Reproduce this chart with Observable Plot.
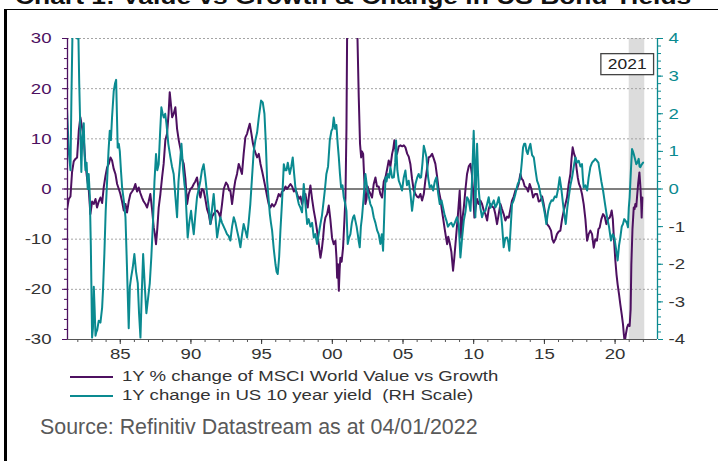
<!DOCTYPE html>
<html><head><meta charset="utf-8">
<script src="https://cdn.jsdelivr.net/npm/d3@7"></script>
<script src="https://cdn.jsdelivr.net/npm/@observablehq/plot@0.6"></script>
<style>
html,body{margin:0;padding:0;background:#fff;}
#wrap{position:relative;width:718px;height:461px;overflow:hidden;font-family:"Liberation Sans",Arial,sans-serif;}
#frame{position:absolute;left:4px;top:9px;width:714px;height:452px;box-sizing:border-box;border-top:1.5px solid #000;border-left:3px solid #000;}
#title{position:absolute;left:15px;top:-14px;font-size:22px;line-height:22px;font-weight:bold;color:#111;white-space:nowrap;transform:scaleX(1.2);transform-origin:0 0;}
#chart{position:absolute;left:0;top:0;}
#legend{position:absolute;left:70px;top:368px;}
.row{position:relative;height:19px;width:600px;}
.sw{position:absolute;left:0;top:8px;width:43px;height:2px;}
.lt{position:absolute;left:52px;top:0;font-size:15.5px;line-height:15.5px;color:#333;white-space:pre;transform:scaleX(1.2);transform-origin:0 0;}
#source{position:absolute;left:40px;top:417px;font-size:21.4px;line-height:21.4px;color:#595959;white-space:nowrap;}
</style></head><body>
<div id="wrap">
  <div id="frame"></div>
  <div id="title"></div>
  <div id="chart"></div>
  <div id="legend"></div>
  <div id="source"></div>
</div>
<script>
// ---------- text ----------
const titleText = "Chart 1: Value vs Growth & Change in US Bond Yields";
const sourceText = "Source: Refinitiv Datastream as at 04/01/2022";
const seriesNames = ["1Y % change of MSCI World Value vs Growth", "1Y change in US 10 year yield  (RH Scale)"];
const highlightLabel = "2021";

// ---------- scales / ticks ----------
const xDomain = [1981.27, 2023.0];
const leftDomain = [-30, 30];
const rightDomain = [-4, 4];
const leftMajor = [-30, -20, -10, 0, 10, 20, 30];
const leftMinor = d3.range(-30, 31, 2);
const rightMajor = [-4, -3, -2, -1, 0, 1, 2, 3, 4];
const rightMinor = d3.range(-20, 21, 1).map(d => d / 5);
const xLabelYears = [1985, 1990, 1995, 2000, 2005, 2010, 2015, 2020];
const xMinorYears = d3.range(1982, 2023);
const highlight = [{start: 2021.0, end: 2022.1, label: highlightLabel}];

// ---------- series: [year, value] ----------
const valueVsGrowth = [
[1981.24,-4],[1981.36,-2],[1981.48,-1.5],[1981.59,3.3],[1981.71,5.5],[1981.83,6],[1981.95,6.3],[1982.07,11.7],[1982.18,14.3],[1982.30,12.3],
[1982.42,10],[1982.54,5],[1982.66,2],[1982.77,0],[1982.89,-5],[1983.01,-2.5],[1983.13,-3],[1983.25,-2],[1983.36,-3.7],[1983.48,-2.5],
[1983.60,-1.7],[1983.72,-2.8],[1983.83,0.3],[1983.95,2.5],[1984.07,4.3],[1984.19,5],[1984.31,6.3],[1984.42,5.7],[1984.54,4],[1984.66,3],
[1984.78,1],[1984.90,0],[1985.01,-1],[1985.13,-2.5],[1985.25,-4.3],[1985.37,-3],[1985.48,-4.7],[1985.60,-2.5],[1985.72,-1],[1985.84,-0.5],
[1985.95,0],[1986.07,1],[1986.19,-0.5],[1986.31,0.3],[1986.42,-0.8],[1986.54,-1.7],[1986.66,-2.5],[1986.78,-3],[1986.90,-3.7],[1987.01,-2.5],
[1987.13,-1],[1987.25,-4],[1987.37,-7.7],[1987.45,-9],[1987.53,-11],[1987.62,-8],[1987.72,-3.7],[1987.84,-1],[1987.96,2.3],[1988.07,5],
[1988.19,9.7],[1988.31,11],[1988.42,15],[1988.50,19.3],[1988.58,17],[1988.67,14.3],[1988.78,15],[1988.90,16.3],[1989.02,12],[1989.14,9.7],
[1989.26,8],[1989.37,6],[1989.49,5],[1989.61,2],[1989.73,-3],[1989.84,-1],[1989.96,0],[1990.08,0.3],[1990.20,1],[1990.31,1.5],
[1990.43,2.3],[1990.55,0],[1990.67,-1.7],[1990.78,0],[1990.90,-0.3],[1991.02,-2],[1991.14,-4],[1991.26,-5],[1991.38,-7],[1991.50,-5.5],
[1991.61,-5],[1991.73,-4.5],[1991.85,-4.3],[1991.97,-4.8],[1992.08,-5.7],[1992.20,-3],[1992.32,0],[1992.48,1.3],[1992.60,0.8],[1992.70,-0.3],
[1992.79,-0.3],[1992.91,-3],[1993.02,-0.5],[1993.14,1.7],[1993.26,3],[1993.38,5],[1993.50,4],[1993.61,3],[1993.73,7],[1993.85,10.3],
[1993.97,11],[1994.06,12],[1994.16,13],[1994.28,11],[1994.39,9],[1994.50,7.7],[1994.68,6.3],[1994.80,7],[1994.92,5],[1995.04,3.5],
[1995.15,2],[1995.27,0.3],[1995.39,-1.5],[1995.50,-3],[1995.62,-3.7],[1995.74,-3],[1995.86,-3.5],[1995.98,-3],[1996.10,-2],[1996.21,-1],
[1996.33,-1.5],[1996.45,-0.5],[1996.57,-0.3],[1996.69,0.5],[1996.80,0],[1996.92,0.5],[1997.04,1],[1997.16,0.5],[1997.28,-0.5],[1997.39,0],
[1997.51,-1],[1997.63,-2],[1997.75,-1.5],[1997.86,-3],[1997.98,-1.5],[1998.10,-1],[1998.18,-2.5],[1998.26,-3.7],[1998.36,-1],[1998.45,0.7],
[1998.57,-2],[1998.69,-4.3],[1998.80,-6],[1998.92,-8.3],[1999.04,-11],[1999.16,-13.7],[1999.26,-12],[1999.35,-9.7],[1999.43,-7],[1999.51,-5.7],
[1999.63,-5],[1999.75,-3.3],[1999.86,-6],[1999.98,-9.7],[2000.10,-11],[2000.22,-10.3],[2000.30,-14],[2000.34,-17.7],[2000.40,-15],[2000.46,-20.3],
[2000.52,-16],[2000.57,-13.7],[2000.66,-14.5],[2000.76,-11.7],[2000.86,-6],[2000.93,-1.7],[2001.00,12],[2001.05,32],[2001.15,40],[2001.30,45],
[2001.50,48],[2001.65,42],[2001.75,34],[2001.87,18.3],[2001.96,9],[2002.04,6.3],[2002.10,7.5],[2002.18,7],[2002.26,2],[2002.34,-3],
[2002.42,-2],[2002.50,0.5],[2002.58,-0.3],[2002.70,-1],[2002.81,-1.7],[2002.93,1],[2003.05,2.3],[2003.16,0.5],[2003.28,0.5],[2003.40,-1],
[2003.52,-1.7],[2003.64,1.5],[2003.76,2.3],[2003.88,4],[2003.99,5.7],[2004.11,4.5],[2004.23,7],[2004.31,8],[2004.39,9.7],[2004.48,7.5],
[2004.58,7],[2004.70,8.5],[2004.82,8.7],[2004.95,8.5],[2005.06,8.7],[2005.17,8.3],[2005.30,7],[2005.40,6.5],[2005.52,5],[2005.64,2],
[2005.76,-0.3],[2005.88,-1],[2005.99,-1.5],[2006.11,-1.7],[2006.23,-1],[2006.35,-2.3],[2006.47,-1],[2006.58,1.7],[2006.70,4],[2006.82,6.3],
[2006.94,6.5],[2007.06,7],[2007.18,6],[2007.29,5],[2007.41,2.5],[2007.53,-0.3],[2007.65,-2],[2007.74,-4],[2007.83,-5.7],[2007.95,-8],
[2008.06,-10],[2008.12,-11],[2008.20,-9.5],[2008.30,-10.7],[2008.42,-12.5],[2008.54,-16.3],[2008.62,-14],[2008.71,-11],[2008.80,-8],[2008.87,-5.7],
[2009.01,-0.3],[2009.06,-4],[2009.11,-9.7],[2009.20,-6],[2009.30,-3.7],[2009.42,0],[2009.53,3],[2009.65,4.5],[2009.77,5],[2009.87,3],
[2009.95,0],[2010.05,-5.7],[2010.15,-3.5],[2010.24,-2],[2010.35,-3],[2010.47,-2.3],[2010.59,-3],[2010.71,-4.3],[2010.83,-5],[2010.95,-6.3],
[2011.06,-4],[2011.18,-3],[2011.30,-3.5],[2011.42,-3.7],[2011.53,-5],[2011.65,-7],[2011.77,-5],[2011.89,-3],[2012.00,-4],[2012.12,-5],
[2012.24,-6.3],[2012.36,-5.5],[2012.48,-5.7],[2012.60,-4],[2012.71,-2.3],[2012.83,-1.5],[2012.95,-0.3],[2013.06,0],[2013.18,1],[2013.30,3],
[2013.40,2],[2013.49,1.7],[2013.61,0.5],[2013.73,0.3],[2013.85,-0.5],[2013.96,1],[2014.08,0],[2014.20,-1.7],[2014.34,-1],[2014.48,-1],
[2014.60,-2.5],[2014.72,-2.3],[2014.84,-1.5],[2014.95,-3],[2015.07,-5],[2015.19,-7],[2015.33,-7.5],[2015.47,-8.3],[2015.56,-10],[2015.66,-10.7],
[2015.78,-10],[2015.89,-9],[2016.01,-8.5],[2016.13,-8.3],[2016.25,-6],[2016.37,-4.3],[2016.49,-3],[2016.60,-1.7],[2016.72,1],[2016.84,3],
[2016.92,6],[2017.00,8.3],[2017.10,7],[2017.19,6.3],[2017.28,4],[2017.36,2.3],[2017.45,1],[2017.55,0.3],[2017.66,-1],[2017.78,-3],
[2017.90,-6],[2018.02,-10.3],[2018.13,-9],[2018.25,-8.3],[2018.37,-9],[2018.49,-11.7],[2018.60,-10],[2018.72,-10.3],[2018.82,-8],[2018.91,-7.7],
[2019.03,-6],[2019.15,-5],[2019.27,-5.5],[2019.38,-7],[2019.50,-6],[2019.62,-5.7],[2019.70,-5],[2019.76,-4.3],[2019.84,-6],[2019.90,-9],
[2020.02,-14.3],[2020.10,-17],[2020.18,-19],[2020.28,-21],[2020.37,-23],[2020.47,-25],[2020.56,-27],[2020.62,-29],[2020.68,-30.5],[2020.76,-29],
[2020.84,-27.7],[2020.93,-27],[2021.03,-27.3],[2021.10,-24],[2021.15,-15],[2021.23,-8],[2021.32,-3.7],[2021.38,-4],[2021.43,-3],[2021.50,-3.5],
[2021.55,-1.7],[2021.63,1],[2021.72,3.3],[2021.79,0.5],[2021.85,-3],[2021.88,-5.7],[2021.93,-1.7]
];

const us10yChange = [
[1981.24,2.1],[1981.36,1.0],[1981.48,0.5],[1981.55,2.5],[1981.62,4.1],[1981.80,4.2],[1981.95,4.0],[1982.04,4.1],[1982.10,2.8],[1982.19,1.37],
[1982.25,0.45],[1982.31,1.3],[1982.42,1.75],[1982.48,0.9],[1982.54,0.5],[1982.62,0.7],[1982.70,0.0],[1982.77,0.4],[1982.85,-0.2],[1982.92,-1.5],
[1983.01,-3.95],[1983.07,-3.7],[1983.13,-2.6],[1983.19,-3.2],[1983.25,-3.9],[1983.31,-3.8],[1983.37,-3.75],[1983.48,-3.5],[1983.60,-3.55],[1983.72,-3.15],
[1983.78,-2.7],[1983.88,-1.7],[1983.97,-0.6],[1984.07,0.2],[1984.17,1.0],[1984.26,1.55],[1984.34,1.3],[1984.42,1.9],[1984.54,2.6],[1984.63,2.8],
[1984.71,2.9],[1984.77,1.9],[1984.82,1.1],[1984.90,1.2],[1984.97,1.0],[1985.05,0.5],[1985.13,0.05],[1985.25,-0.3],[1985.37,-0.75],[1985.47,-2.0],
[1985.60,-3.7],[1985.68,-2.6],[1985.77,-2.35],[1985.88,-2.1],[1986.00,-1.73],[1986.12,-2.2],[1986.24,-2.5],[1986.33,-3.3],[1986.43,-3.95],[1986.52,-2.8],
[1986.62,-1.73],[1986.74,-2.6],[1986.85,-3.3],[1986.97,-2.9],[1987.09,-2.5],[1987.20,-1.8],[1987.32,-0.85],[1987.42,0.2],[1987.53,0.93],[1987.62,0.5],
[1987.72,0.66],[1987.82,1.5],[1987.91,2.17],[1988.00,2.0],[1988.08,1.9],[1988.18,2.0],[1988.27,1.73],[1988.40,1.2],[1988.55,0.84],[1988.66,0.6],
[1988.78,0.4],[1988.90,-0.2],[1989.02,-0.75],[1989.12,0.2],[1989.23,0.7],[1989.33,1.2],[1989.45,0.5],[1989.55,0.1],[1989.61,-0.04],[1989.77,-1.29],
[1989.88,-0.9],[1990.01,-0.58],[1990.10,-0.9],[1990.20,-1.2],[1990.31,-0.7],[1990.43,-0.22],[1990.55,0.0],[1990.67,0.22],[1990.78,0.5],[1990.90,0.66],
[1991.02,0.3],[1991.14,-0.13],[1991.26,-0.5],[1991.38,-0.93],[1991.50,-0.5],[1991.61,-0.13],[1991.73,-0.7],[1991.85,-1.29],[1991.97,-1.0],[1992.08,-0.75],
[1992.20,-0.9],[1992.32,-1.0],[1992.44,-1.1],[1992.55,-1.2],[1992.67,-1.25],[1992.79,-1.37],[1992.91,-1.0],[1993.03,-0.75],[1993.15,-0.9],[1993.26,-1.1],
[1993.38,-1.3],[1993.50,-1.55],[1993.62,-1.2],[1993.73,-0.93],[1993.85,-1.1],[1993.97,-1.29],[1994.08,-0.9],[1994.20,-0.4],[1994.32,0.3],[1994.44,1.0],
[1994.56,1.3],[1994.68,1.5],[1994.80,1.9],[1994.96,2.35],[1995.08,2.3],[1995.20,2.0],[1995.30,1.2],[1995.39,0.22],[1995.48,-0.2],[1995.58,-0.66],
[1995.66,-0.9],[1995.74,-1.1],[1995.86,-1.6],[1995.98,-2.0],[1996.06,-2.2],[1996.14,-2.26],[1996.24,-1.8],[1996.33,-1.1],[1996.45,-0.3],[1996.57,0.66],
[1996.66,0.5],[1996.76,0.5],[1996.85,0.7],[1996.99,0.4],[1997.10,0.6],[1997.20,0.84],[1997.30,0.4],[1997.39,0.04],[1997.51,-0.2],[1997.63,-0.4],
[1997.75,-0.5],[1997.86,-0.62],[1997.98,0.13],[1998.10,-0.4],[1998.22,-0.93],[1998.33,-0.8],[1998.45,-1.0],[1998.57,-0.9],[1998.69,-1.29],[1998.80,-1.2],
[1998.92,-1.46],[1999.04,-1.2],[1999.16,-0.93],[1999.27,-0.7],[1999.39,-0.31],[1999.48,0.0],[1999.58,0.4],[1999.70,0.6],[1999.82,1.29],[1999.94,1.55],
[2000.02,1.6],[2000.10,1.9],[2000.20,1.6],[2000.29,1.7],[2000.38,1.2],[2000.46,0.84],[2000.54,0.4],[2000.62,0.04],[2000.72,0.1],[2000.81,-0.22],
[2000.92,-0.4],[2001.00,-0.58],[2001.09,-1.46],[2001.18,-1.3],[2001.28,-1.2],[2001.38,-0.9],[2001.47,-0.75],[2001.55,-0.7],[2001.63,-0.84],[2001.72,-1.0],
[2001.80,-1.2],[2001.87,-1.4],[2001.94,-1.55],[2002.02,-1.0],[2002.10,-0.75],[2002.22,-0.2],[2002.34,0.4],[2002.46,0.04],[2002.58,-0.2],[2002.69,-0.4],
[2002.81,-0.5],[2002.93,-0.75],[2003.05,-0.9],[2003.17,-1.1],[2003.28,-1.2],[2003.40,-1.46],[2003.50,-1.2],[2003.59,-1.64],[2003.68,-0.6],[2003.76,0.31],
[2003.84,0.2],[2003.92,0.4],[2004.02,0.3],[2004.11,0.58],[2004.23,0.3],[2004.35,0.31],[2004.45,0.7],[2004.51,1.29],[2004.60,0.5],[2004.70,0.22],
[2004.82,0.1],[2004.93,-0.04],[2005.05,0.3],[2005.17,0.49],[2005.28,0.1],[2005.40,0.22],[2005.52,-0.1],[2005.64,-0.58],[2005.76,-0.2],[2005.88,0.13],
[2006.00,0.3],[2006.11,0.4],[2006.20,0.3],[2006.28,0.31],[2006.38,0.7],[2006.47,1.15],[2006.57,1.0],[2006.66,0.84],[2006.78,0.3],[2006.89,0.04],
[2007.01,0.1],[2007.13,-0.04],[2007.25,0.2],[2007.36,0.31],[2007.48,-0.1],[2007.60,-0.4],[2007.72,-0.3],[2007.83,-0.49],[2007.95,-0.7],[2008.07,-0.84],
[2008.18,-1.0],[2008.30,-0.93],[2008.42,-0.9],[2008.54,-1.0],[2008.66,-0.9],[2008.82,-0.75],[2008.94,-0.93],[2009.06,-1.82],[2009.18,-1.3],[2009.30,-0.84],
[2009.42,-0.6],[2009.53,-0.22],[2009.65,-0.3],[2009.77,-0.58],[2009.88,0.2],[2010.00,1.55],[2010.06,0.8],[2010.12,-0.75],[2010.18,0.5],[2010.24,1.2],
[2010.30,0.5],[2010.36,-0.04],[2010.47,-0.5],[2010.59,-0.75],[2010.71,-0.6],[2010.83,-0.58],[2010.95,-0.4],[2011.06,-0.22],[2011.18,-0.5],[2011.30,-0.4],
[2011.42,-0.3],[2011.53,-0.49],[2011.65,-0.4],[2011.77,-0.22],[2011.89,-0.5],[2012.00,-0.93],[2012.12,-1.55],[2012.24,-1.3],[2012.36,-1.29],[2012.44,-1.4],
[2012.52,-1.64],[2012.62,-1.0],[2012.71,-0.4],[2012.83,-0.3],[2012.95,-0.13],[2013.03,0.0],[2013.11,0.13],[2013.20,0.2],[2013.30,0.31],[2013.40,0.7],
[2013.49,1.1],[2013.57,1.2],[2013.65,1.2],[2013.74,1.0],[2013.82,0.93],[2013.92,1.1],[2014.01,1.2],[2014.13,0.9],[2014.25,0.84],[2014.37,0.5],
[2014.48,0.22],[2014.60,0.1],[2014.72,-0.13],[2014.84,-0.3],[2014.95,-0.49],[2015.05,-0.7],[2015.14,-0.93],[2015.26,-0.6],[2015.38,-0.4],[2015.50,-0.3],
[2015.61,-0.31],[2015.73,-0.2],[2015.85,-0.22],[2015.97,0.0],[2016.08,0.31],[2016.20,0.0],[2016.32,-0.4],[2016.42,-0.7],[2016.51,-0.93],[2016.62,-0.5],
[2016.72,-0.22],[2016.84,0.1],[2016.96,0.31],[2017.08,0.6],[2017.19,0.84],[2017.31,0.7],[2017.43,0.75],[2017.55,0.6],[2017.66,0.66],[2017.72,0.3],
[2017.78,0.04],[2017.90,0.1],[2018.02,-0.04],[2018.13,0.3],[2018.25,0.58],[2018.37,0.7],[2018.49,0.75],[2018.60,0.8],[2018.72,0.75],[2018.82,0.7],
[2018.91,0.49],[2019.03,0.2],[2019.15,-0.04],[2019.29,-0.4],[2019.43,-0.75],[2019.57,-1.0],[2019.71,-1.37],[2019.83,-1.2],[2019.95,-1.29],[2020.07,-1.6],
[2020.18,-1.9],[2020.28,-1.5],[2020.37,-1.29],[2020.47,-1.0],[2020.56,-0.93],[2020.65,-0.8],[2020.73,-0.84],[2020.83,-0.9],[2020.91,-1.02],[2020.97,-0.5],
[2021.03,-0.22],[2021.12,0.5],[2021.20,1.06],[2021.26,1.0],[2021.32,0.93],[2021.41,0.8],[2021.50,0.66],[2021.58,0.7],[2021.67,0.8],[2021.73,0.6],
[2021.79,0.58],[2021.88,0.65],[2021.98,0.7]
];

// ---------- styling ----------
const PURPLE = "#4D1060";
const TEAL = "#0A8A90";
const AXIS_GRAY = "#555";
const LABEL_GRAY = "#333";
const K = leftDomain[1] / rightDomain[1]; // left units per right unit

const vg = valueVsGrowth.map(([t, v]) => ({t, v}));
const yl = us10yChange.map(([t, v]) => ({t, v: v * K}));
const fmtYear = d => String(d % 100).padStart(2, "0");
const ax = {label: null};

const chart = Plot.plot({
  width: 718, height: 372,
  marginTop: 38, marginBottom: 33, marginLeft: 67, marginRight: 61,
  x: {domain: xDomain, label: null},
  y: {domain: leftDomain, label: null},
  style: {background: "transparent", fontFamily: '"Liberation Sans", Arial, sans-serif', fontSize: "15.5px", overflow: "visible"},
  marks: [
    Plot.rect(highlight, {x1: "start", x2: "end", y1: () => leftDomain[0], y2: () => leftDomain[1], fill: "#dcdcdc"}),
    Plot.ruleY(leftMajor.filter(d => d !== 0 && d !== leftDomain[0]), {stroke: "#9a9a9a", strokeWidth: 0.9, strokeDasharray: "2,2"}),
    Plot.ruleY([0], {stroke: AXIS_GRAY, strokeWidth: 1.5}),
    Plot.line(vg, {x: "t", y: "v", stroke: PURPLE, strokeWidth: 2, clip: true}),
    Plot.line(yl, {x: "t", y: "v", stroke: TEAL, strokeWidth: 2, clip: true}),
    // frame lines
    Plot.ruleY([leftDomain[0]], {stroke: AXIS_GRAY, strokeWidth: 1.2}),
    Plot.ruleX([xDomain[0]], {stroke: PURPLE, strokeWidth: 1.3}),
    Plot.ruleX([xDomain[1]], {stroke: TEAL, strokeWidth: 1.3}),
    // x axis
    Plot.axisX(xMinorYears, {...ax, anchor: "bottom", tickSize: 3, tickFormat: () => "", color: AXIS_GRAY}),
    Plot.axisX(xLabelYears, {...ax, anchor: "bottom", tickSize: 5, tickPadding: 3, tickFormat: fmtYear, color: LABEL_GRAY, fontSize: 15.5}),
    // left axis
    Plot.axisY(leftMinor, {...ax, anchor: "left", tickSize: 3, tickFormat: () => "", color: PURPLE}),
    Plot.axisY(leftMajor, {...ax, anchor: "left", tickSize: 5, tickFormat: () => "", color: PURPLE}),
    Plot.axisY(leftMajor.filter(d => d >= 0), {...ax, anchor: "left", tickSize: 0, tickPadding: 16, tickFormat: d => String(d), color: PURPLE, fontSize: 15.5}),
    Plot.axisY(leftMajor.filter(d => d < 0), {...ax, anchor: "left", tickSize: 0, tickPadding: 16, tickFormat: d => String(d), color: LABEL_GRAY, fontSize: 15.5}),
    // right axis (scaled onto left scale)
    Plot.axisY(rightMinor.map(d => d * K), {...ax, anchor: "right", tickSize: 3, tickFormat: () => "", color: TEAL}),
    Plot.axisY(rightMajor.map(d => d * K), {...ax, anchor: "right", tickSize: 5, tickFormat: () => "", color: TEAL}),
    Plot.axisY(rightMajor.filter(d => d >= 0).map(d => d * K), {...ax, anchor: "right", tickSize: 0, tickPadding: 11, tickFormat: d => String(Math.round(d / K)), color: TEAL, fontSize: 15.5}),
    Plot.axisY(rightMajor.filter(d => d < 0).map(d => d * K), {...ax, anchor: "right", tickSize: 0, tickPadding: 11, tickFormat: d => String(Math.round(d / K)), color: LABEL_GRAY, fontSize: 15.5}),
    // highlight label
    Plot.text(highlight, {x: "start", text: "label", frameAnchor: "top", dx: -2, dy: 26, lineAnchor: "middle", fill: "#222", fontSize: 14.5})
  ]
});
document.getElementById("chart").appendChild(chart);

// horizontal stretch of svg text (the original's lettering is wide)
chart.querySelectorAll("text").forEach(t => {
  const L = t.getComputedTextLength();
  if (L > 0) { t.setAttribute("textLength", (L * 1.2).toFixed(2)); t.setAttribute("lengthAdjust", "spacingAndGlyphs"); }
});

// box around the highlight label
(function () {
  const lbl = Array.from(chart.querySelectorAll("text")).find(t => t.textContent === highlightLabel);
  if (!lbl) return;
  const sb = chart.getBoundingClientRect();
  const b = lbl.getBoundingClientRect();
  let g = lbl; while (g.parentNode && g.parentNode !== chart) g = g.parentNode;
  const r = document.createElementNS("http://www.w3.org/2000/svg", "rect");
  r.setAttribute("x", b.left - sb.left - 7);
  r.setAttribute("y", b.top - sb.top - 2.5);
  r.setAttribute("width", b.width + 14);
  r.setAttribute("height", b.height + 5);
  r.setAttribute("fill", "#fff");
  r.setAttribute("stroke", "#444");
  r.setAttribute("stroke-width", 1.3);
  chart.insertBefore(r, g);
})();

// title, legend, source
document.getElementById("title").textContent = titleText;
document.getElementById("source").textContent = sourceText;
const legend = document.getElementById("legend");
[PURPLE, TEAL].forEach((c, i) => {
  const row = document.createElement("div"); row.className = "row";
  const sw = document.createElement("div"); sw.className = "sw"; sw.style.background = c;
  const tx = document.createElement("div"); tx.className = "lt"; tx.textContent = seriesNames[i];
  row.appendChild(sw); row.appendChild(tx); legend.appendChild(row);
});
</script>
</body></html>
